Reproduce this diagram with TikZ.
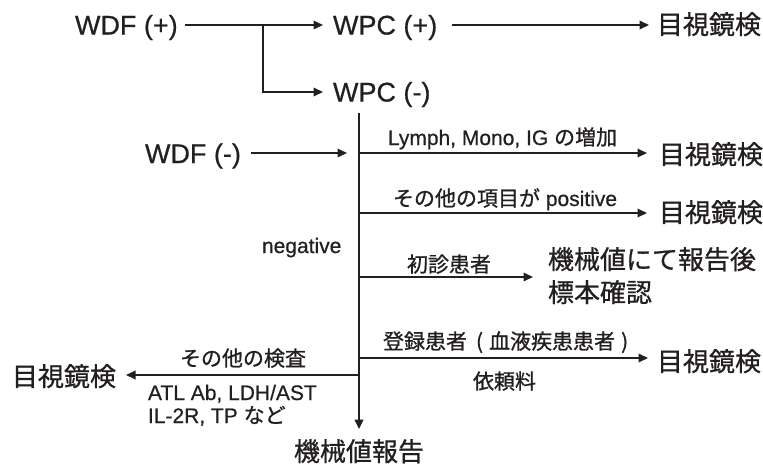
\documentclass[tikz,border=0pt]{standalone}
\usepackage{fontspec}
\setmainfont{Liberation Sans}[FakeBold=0.6]
\newfontfamily\cjk{Noto Sans CJK JP}[FakeBold=0.9]
\usetikzlibrary{arrows.meta}
\definecolor{ink}{RGB}{35,31,32}
\begin{document}
\begin{tikzpicture}[x=1pt,y=1pt,
  every node/.style={inner sep=0pt, outer sep=0pt, text=ink, anchor=base west},
  big/.style={font=\fontsize{27}{32}\selectfont},
  bigj/.style={font=\fontsize{26}{32}\selectfont\cjk},
  small/.style={font=\fontsize{21}{25}\selectfont},
  smallj/.style={font=\fontsize{21}{25}\selectfont\cjk},
  line/.style={draw=ink, line width=1.9pt},
  arr/.style={line, -{Triangle[length=9.5pt,width=8.5pt]}},
]
\useasboundingbox (0,0) rectangle (763,-464);

\node[big] (wdfp) at (75,-34.5) {WDF (+)};
\node[big] (wpcp) at (333,-34.5) {WPC (+)};
\node[bigj] (me1) at (657,-34) {目視鏡検};
\node[big] (wpcm) at (333,-101.5) {WPC (-)};
\node[big] (wdfm) at (145,-163) {WDF (-)};
\node[small] (lymph) at (388,-145) {Lymph, Mono, IG {\cjk の増加}};
\node[bigj] (me2) at (659,-164) {目視鏡検};
\node[small] (pos) at (393,-206) {{\cjk その他の項目が} positive};
\node[bigj] (me3) at (659,-222) {目視鏡検};
\node[small] (neg) at (262,-253) {negative};
\node[smallj] (sho) at (407,-272) {初診患者};
\node[bigj] (rep1) at (548,-269) {機械値にて報告後};
\node[bigj] (rep2) at (548,-302) {標本確認};
\node[smallj] (tou) at (383,-349) {登録患者\hspace{9pt}(\hspace{6pt}血液疾患患者\hspace{6pt})};
\node[smallj] (irai) at (473,-389) {依頼料};
\node[bigj] (me4) at (657,-371) {目視鏡検};
\node[smallj] (other) at (180,-366) {その他の検査};
\node[bigj] (me5) at (12,-386) {目視鏡検};
\node[small] (atl) at (148,-400) {ATL Ab, LDH/AST};
\node[small] (il) at (148,-423) {IL-2R, TP {\cjk など}};
\node[bigj, anchor=base] (kikai) at (359,-461) {機械値報告};

\coordinate (r1) at (0,-25);
\coordinate (br) at (263,-25);
\coordinate (r2) at (0,-92);
\coordinate (vtop) at (359,-113);
\coordinate (jL) at (359,-153);
\coordinate (wdfmEnd) at (347,-153);
\coordinate (jP) at (359,-213);
\coordinate (jS) at (359,-277);
\coordinate (jT) at (359,-358);
\coordinate (jO) at (359,-375);

\draw[arr] ([xshift=7pt]wdfp.east |- r1) -- ([xshift=-10pt]wpcp.west |- r1);
\draw[arr] (br) |- ([xshift=-10pt]wpcm.west |- r2);
\draw[arr] ([xshift=15pt]wpcp.east |- r1) -- ([xshift=-8pt]me1.west |- r1);
\draw[arr] ([xshift=10pt]wdfm.east |- jL) -- (wdfmEnd);
\draw[arr] (vtop) -- ([yshift=10pt]kikai.north);
\draw[arr] (jL) -- ([xshift=-12pt]me2.west |- jL);
\draw[arr] (jP) -- ([xshift=-12pt]me3.west |- jP);
\draw[arr] (jS) -- ([xshift=-15pt]rep1.west |- jS);
\draw[arr] (jT) -- ([xshift=-9pt]me4.west |- jT);
\draw[arr] (jO) -- ([xshift=10pt]me5.east |- jO);
\end{tikzpicture}
\end{document}
